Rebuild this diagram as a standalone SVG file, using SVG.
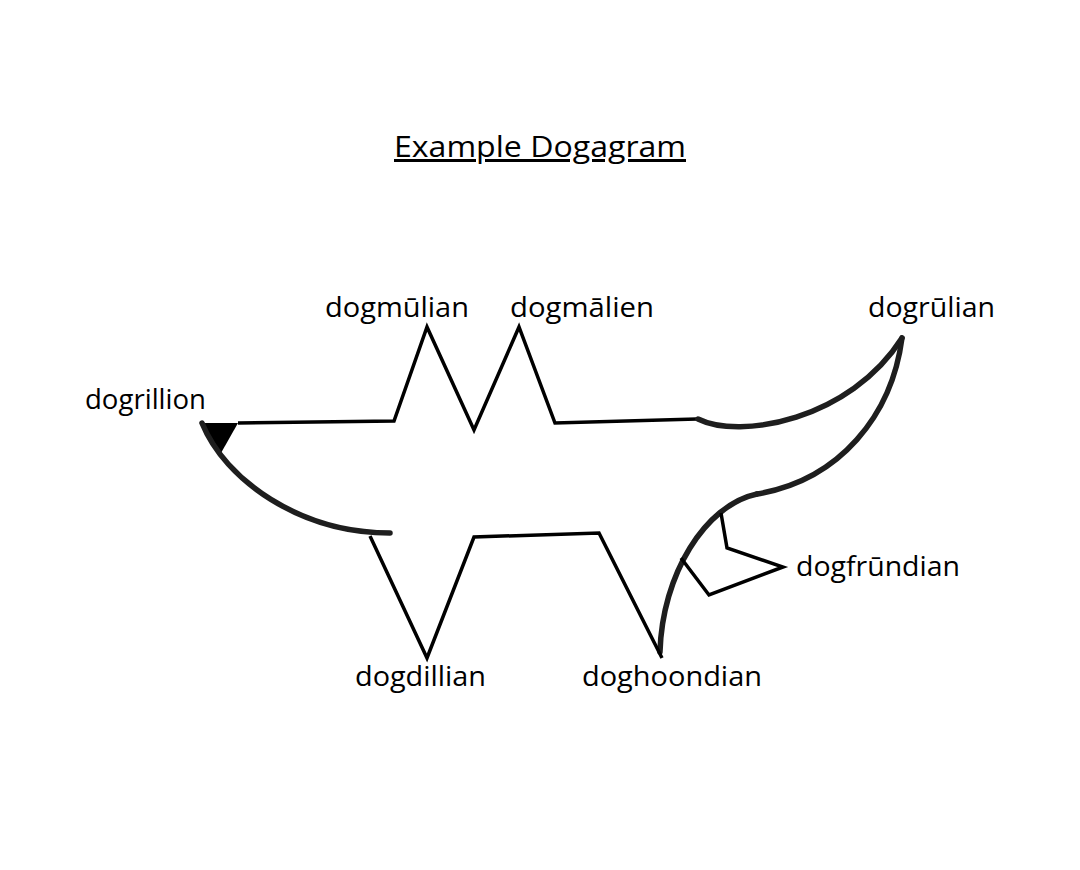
<svg xmlns="http://www.w3.org/2000/svg" width="1080" height="870" viewBox="0 0 1080 870">
<style>
  .lbl { font-family: "Open Sans", "Noto Sans", "DejaVu Sans", sans-serif; font-size: 27.5px; fill: #000; }
  .title { font-family: "Open Sans", "Noto Sans", "DejaVu Sans", sans-serif; font-size: 30px; fill: #000; text-decoration: underline; }
  .thin { fill: none; stroke: #000; stroke-width: 3.5; stroke-linejoin: miter; stroke-linecap: butt; }
  .thick { fill: none; stroke: #1e1e1e; stroke-width: 5.5; stroke-linecap: round; }
</style>
<rect width="1080" height="870" fill="#fff"/>
<g id="title">
  <text class="title" x="394" y="157" textLength="292" lengthAdjust="spacingAndGlyphs">Example Dogagram</text>
</g>
<g id="connectors">
  <polygon points="202,423 238,423 221,453" fill="#000"/>
  <polyline class="thin" points="238,423 394,421 427,327 474,430 519,327 555,423 697,419"/>
  <path class="thick" d="M698,419 C740,440 850,420 902,338"/>
  <path class="thick" d="M902,338 C892,415 840,480 757,494"/>
  <path class="thick" d="M757,494 C705,505 662,575 660,652"/>
  <path class="thick" d="M202,423 C225,480 300,533 390,533"/>
  <polyline class="thin" points="370,536 427,658 474,537 599,533 662,658"/>
  <polyline class="thin" points="721,513 727,548 783,567 709,595 681,558"/>
</g>
<g id="node-dogrillion"><text class="lbl" x="85" y="409" textLength="121" lengthAdjust="spacingAndGlyphs">dogrillion</text></g>
<g id="node-dogmulian"><text class="lbl" x="325" y="317" textLength="144" lengthAdjust="spacingAndGlyphs">dogmūlian</text></g>
<g id="node-dogmalien"><text class="lbl" x="510" y="317" textLength="144" lengthAdjust="spacingAndGlyphs">dogmālien</text></g>
<g id="node-dogrulian"><text class="lbl" x="868" y="317" textLength="127" lengthAdjust="spacingAndGlyphs">dogrūlian</text></g>
<g id="node-dogfrundian"><text class="lbl" x="796" y="576" textLength="164" lengthAdjust="spacingAndGlyphs">dogfrūndian</text></g>
<g id="node-dogdillian"><text class="lbl" x="355" y="686" textLength="131" lengthAdjust="spacingAndGlyphs">dogdillian</text></g>
<g id="node-doghoondian"><text class="lbl" x="582" y="686" textLength="180" lengthAdjust="spacingAndGlyphs">doghoondian</text></g>
</svg>
